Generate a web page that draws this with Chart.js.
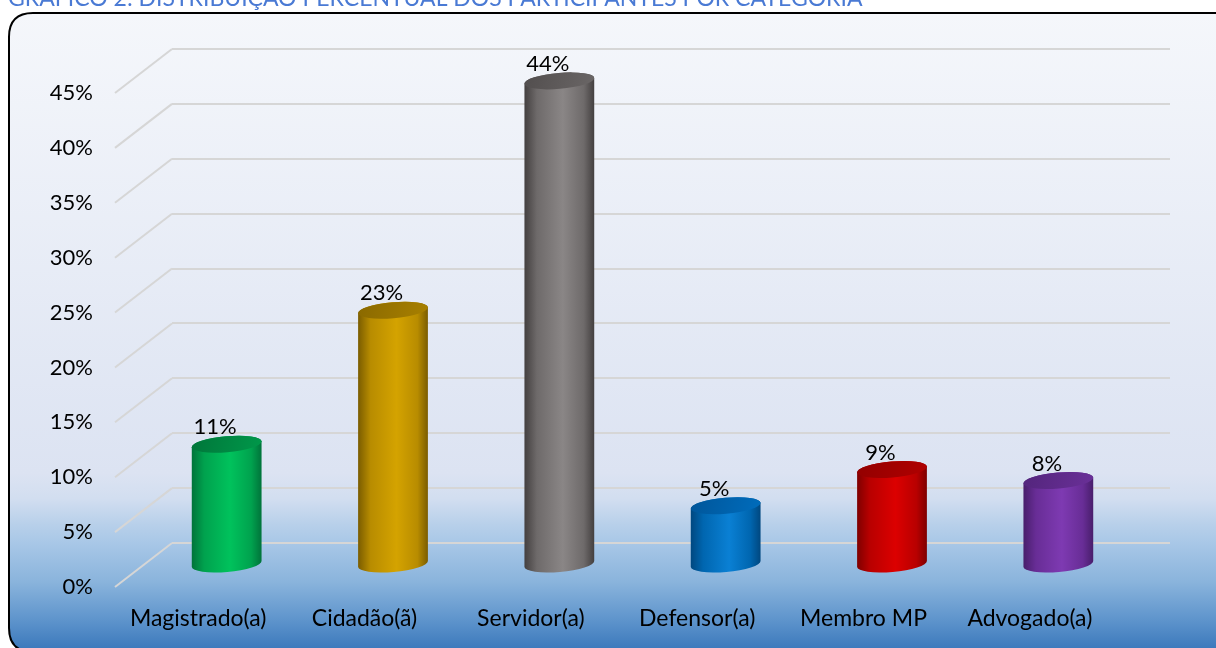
<!DOCTYPE html>
<html><head><meta charset="utf-8">
<script src="https://cdn.jsdelivr.net/npm/chart.js@4"></script>
<style>html,body{margin:0;padding:0;background:#fff;overflow:hidden}canvas{display:block}</style>
</head><body>
<canvas id="c" width="1216" height="648"></canvas>
<script>
// ---- data ----
const categories = ['Magistrado(a)', 'Cidadão(ã)', 'Servidor(a)', 'Defensor(a)', 'Membro MP', 'Advogado(a)'];
const percentages = [11.0, 23.2, 44.1, 5.4, 8.7, 7.7];
const yAxisMax = 45;
const yAxisStep = 5;
const chartTitle = 'GRÁFICO 2: DISTRIBUIÇÃO PERCENTUAL DOS PARTICIPANTES POR CATEGORIA';

// ---- styles ----
const FONT = 'Lato, "Open Sans", sans-serif';
const DEPTH_X = 57, DEPTH_Y = 44;
const barStyles = [
  {edge:'#00733a', mid:'#00a24e', light:'#00c25c', top1:'#00763a', top2:'#00984a'},
  {edge:'#7a5c00', mid:'#b88c00', light:'#d4a300', top1:'#8a6900', top2:'#a88000'},
  {edge:'#433f3f', mid:'#6e6a6a', light:'#8a8686', top1:'#524e4e', top2:'#6a6666'},
  {edge:'#00477f', mid:'#0066b0', light:'#0a80d4', top1:'#00569a', top2:'#006cbc'},
  {edge:'#7e0000', mid:'#b80000', light:'#dc0000', top1:'#930000', top2:'#b00000'},
  {edge:'#481e6b', mid:'#682d96', light:'#7e3ab2', top1:'#53257c', top2:'#6a3098'}
];

function roundRectPath(ctx, x, y, w, h, r) {
  ctx.beginPath();
  ctx.moveTo(x + r, y);
  ctx.lineTo(x + w - r, y);
  ctx.quadraticCurveTo(x + w, y, x + w, y + r);
  ctx.lineTo(x + w, y + h - r);
  ctx.quadraticCurveTo(x + w, y + h, x + w - r, y + h);
  ctx.lineTo(x + r, y + h);
  ctx.quadraticCurveTo(x, y + h, x, y + h - r);
  ctx.lineTo(x, y + r);
  ctx.quadraticCurveTo(x, y, x + r, y);
  ctx.closePath();
}

function drawCylinder(ctx, cx, topY, botY, rx, ry, rot, st) {
  const c = Math.cos(rot), s = Math.sin(rot);
  const g = ctx.createLinearGradient(cx - rx, 0, cx + rx, 0);
  g.addColorStop(0, st.edge);
  g.addColorStop(0.18, st.mid);
  g.addColorStop(0.55, st.light);
  g.addColorStop(0.85, st.mid);
  g.addColorStop(1, st.edge);
  ctx.beginPath();
  ctx.moveTo(cx - rx * c, topY - rx * s);
  ctx.lineTo(cx - rx * c, botY - rx * s);
  ctx.ellipse(cx, botY, rx, ry, rot, Math.PI, 0, true);
  ctx.lineTo(cx + rx * c, topY + rx * s);
  ctx.ellipse(cx, topY, rx, ry, rot, 0, Math.PI, true);
  ctx.closePath();
  ctx.fillStyle = g;
  ctx.fill();
  const tg = ctx.createLinearGradient(cx - rx, topY - ry, cx + rx, topY + ry);
  tg.addColorStop(0, st.top1);
  tg.addColorStop(1, st.top2);
  ctx.beginPath();
  ctx.ellipse(cx, topY, rx, ry, rot, 0, Math.PI * 2);
  ctx.fillStyle = tg;
  ctx.fill();
}

const scenePlugin = {
  id: 'scene',
  beforeDraw(chart) {
    const ctx = chart.ctx;
    ctx.save();
    ctx.fillStyle = '#ffffff';
    ctx.fillRect(0, 0, chart.width, chart.height);
    // title (cut off at top as in the source)
    ctx.fillStyle = '#4a7ad4';
    ctx.font = '23px ' + FONT;
    ctx.textBaseline = 'alphabetic';
    ctx.textAlign = 'left';
    ctx.fillText(chartTitle, 8, 6);
    // frame with gradient
    const bg = ctx.createLinearGradient(0, 13, 0, 652);
    bg.addColorStop(0, '#f5f7fb');
    bg.addColorStop(0.72, '#dce3f2');
    bg.addColorStop(0.76, '#d2def0');
    bg.addColorStop(0.80, '#b8d0ea');
    bg.addColorStop(0.83, '#a8c7e7');
    bg.addColorStop(0.89, '#8ab4dc');
    bg.addColorStop(0.95, '#5e94cc');
    bg.addColorStop(1, '#3876ba');
    roundRectPath(ctx, 9, 13, 1232, 639, 24);
    ctx.fillStyle = bg;
    ctx.fill();
    ctx.lineWidth = 2;
    ctx.strokeStyle = '#000000';
    ctx.stroke();
    // depth (side wall) gridlines
    const ys = chart.scales.y, a = chart.chartArea;
    ctx.strokeStyle = '#d6d6d6';
    ctx.lineWidth = 2;
    ys.ticks.forEach(t => {
      const py = ys.getPixelForValue(t.value);
      ctx.beginPath();
      ctx.moveTo(a.left, py);
      ctx.lineTo(a.left - DEPTH_X, py + DEPTH_Y);
      ctx.stroke();
    });
    ctx.restore();
  },
  afterDatasetsDraw(chart) {
    const ctx = chart.ctx;
    const meta = chart.getDatasetMeta(0);
    ctx.save();
    meta.data.forEach((bar, i) => {
      const rx = bar.width / 2;
      const cx = bar.x - DEPTH_X / 2;
      drawCylinder(ctx, cx, bar.y + DEPTH_Y / 2, bar.base + DEPTH_Y / 2, rx, 8, -0.085, barStyles[i]);
    });
    ctx.fillStyle = '#000000';
    ctx.font = '22px ' + FONT;
    ctx.textAlign = 'center';
    ctx.textBaseline = 'middle';
    meta.data.forEach((bar, i) => {
      ctx.fillText(Math.round(percentages[i]) + '%', bar.x - 40, bar.y + 5);
    });
    ctx.restore();
  }
};

new Chart(document.getElementById('c'), {
  type: 'bar',
  data: {
    labels: categories,
    datasets: [{
      data: percentages,
      backgroundColor: 'rgba(0,0,0,0)',
      borderWidth: 0,
      categoryPercentage: 1,
      barPercentage: 0.421
    }]
  },
  options: {
    responsive: false,
    animation: false,
    devicePixelRatio: 1,
    layout: { padding: { top: 49, right: 46, left: 0, bottom: 0 } },
    plugins: { legend: { display: false }, tooltip: { enabled: false }, title: { display: false } },
    scales: {
      y: {
        min: 0, max: yAxisMax,
        border: { display: false },
        grid: { color: '#d6d6d6', lineWidth: 2, drawTicks: false },
        ticks: {
          stepSize: yAxisStep,
          callback: v => v + '%',
          labelOffset: DEPTH_Y,
          padding: 79,
          color: '#000000',
          font: { family: FONT, size: 22 }
        },
        afterFit: s => { s.width = 172; s.paddingTop = 0; s.paddingBottom = 0; }
      },
      x: {
        border: { display: false },
        grid: { display: false, drawTicks: false },
        ticks: {
          labelOffset: -DEPTH_X,
          padding: 62,
          color: '#000000',
          maxRotation: 0,
          font: { family: FONT, size: 23 }
        },
        afterFit: s => { s.height = 105; s.paddingLeft = 0; s.paddingRight = 0; }
      }
    }
  },
  plugins: [scenePlugin]
});
</script>
</body></html>
